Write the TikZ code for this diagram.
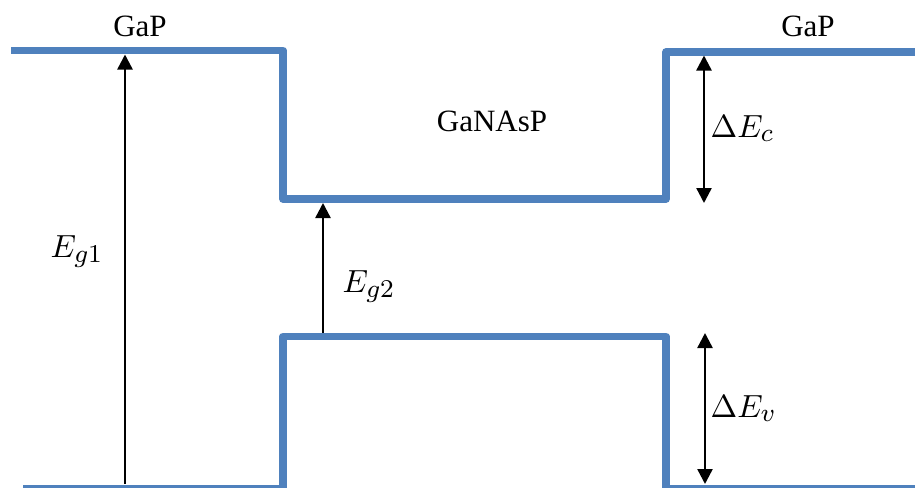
\documentclass[tikz,border=0pt]{standalone}
\usepackage{fontspec}
\setmainfont{Liberation Serif}
\usetikzlibrary{arrows.meta}
\definecolor{bandblue}{HTML}{4F81BD}
% subscripts set a little larger than the default script size
\newcommand{\bigsub}[1]{\mbox{\fontsize{8}{10}\selectfont$#1$}}
\tikzset{
  band/.style={draw=bandblue, line width=7.5pt, line join=round},
  gaparrow/.style={draw=black, line width=2.4pt, -{Triangle[width=15pt,length=15pt]}},
  offsetarrow/.style={draw=black, line width=2.4pt, {Triangle[width=15pt,length=15pt]}-{Triangle[width=15pt,length=15pt]}},
  material/.style={font=\fontsize{31}{37}\selectfont, inner sep=0pt, anchor=base},
  energy/.style={font=\fontsize{10}{12}\selectfont, scale=3.2, inner sep=0pt, anchor=base west},
}
\begin{document}
\begin{tikzpicture}[x=1pt,y=-1pt]
  \useasboundingbox (0,0) rectangle (915,487);
  \clip (0,0) rectangle (915,487);

  % conduction band edge
  \coordinate (cbL) at (11,50.5);
  \coordinate (cbA) at (283,50.5);
  \coordinate (cbB) at (283,199);
  \coordinate (cbC) at (666,199);
  \coordinate (cbD) at (666,52);
  \coordinate (cbR) at (920,52);
  % valence band edge
  \coordinate (vbL) at (23,489);
  \coordinate (vbA) at (283,489);
  \coordinate (vbB) at (283,336.5);
  \coordinate (vbC) at (666,336.5);
  \coordinate (vbD) at (666,489);
  \coordinate (vbR) at (920,489);

  \draw[band] (cbL) -- (cbA) -- (cbB) -- (cbC) -- (cbD) -- (cbR);
  \draw[band] (vbL) -- (vbA) -- (vbB) -- (vbC) -- (vbD) -- (vbR);

  % gap and offset arrows
  \coordinate (eg1s) at (125,484);
  \coordinate (eg1e) at (125,54.5);
  \coordinate (eg2s) at (323,332.5);
  \coordinate (eg2e) at (323,203);
  \coordinate (dcs) at (704,55.5);
  \coordinate (dce) at (704,203);
  \coordinate (dvs) at (705,333);
  \coordinate (dve) at (705,484);

  \draw[gaparrow] (eg1s) -- (eg1e);
  \draw[gaparrow] (eg2s) -- (eg2e);
  \draw[offsetarrow] (dcs) -- (dce);
  \draw[offsetarrow] (dvs) -- (dve);

  % labels
  \node[material] (gapL) at (140,37) {GaP};
  \node[material] (gapR) at (808,37) {GaP};
  \node[material] (well) at (492,131) {GaNAsP};
  \node[energy] (lEg1) at (50,257) {$E_{\bigsub{g1}}$};
  \node[energy] (lEg2) at (342,292) {$E_{\bigsub{g2}}$};
  \node[energy] (lEc) at (710,137) {$\Delta E_{\bigsub{c}}$};
  \node[energy] (lEv) at (710,417) {$\Delta E_{\bigsub{v}}$};
\end{tikzpicture}
\end{document}
